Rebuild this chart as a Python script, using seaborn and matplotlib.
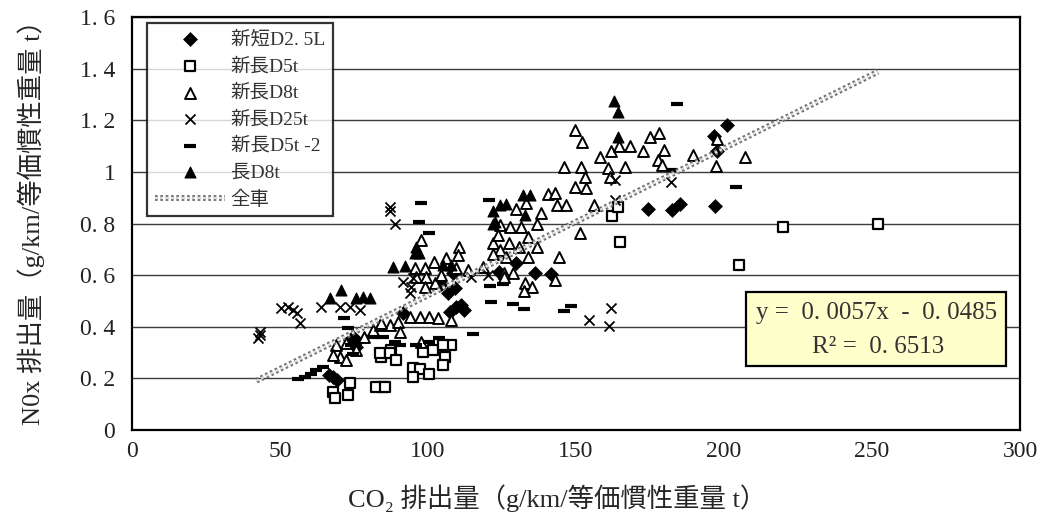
import matplotlib.pyplot as plt
import matplotlib.patheffects as pe
import numpy as np
import pandas as pd
import seaborn as sns

# data
short_d25_x = [201.1, 196.7, 197.8, 174.2, 182.3, 185.2, 196.8, 136.2, 141.7, 129.6, 124.0, 108.4,
               104.5, 106.7, 109.0, 111.2, 107.3, 109.5, 112.3, 91.6, 74.7, 75.8, 73.5, 76.0,
               67.9, 69.1, 66.5]
short_d25_y = [1.18, 1.14, 1.08, 0.856, 0.852, 0.874, 0.868, 0.607, 0.603, 0.646, 0.612, 0.607,
               0.565, 0.53, 0.549, 0.484, 0.458, 0.478, 0.465, 0.452, 0.362, 0.323, 0.35, 0.345,
               0.207, 0.194, 0.215]

long_d5_x = [162.2, 164.1, 165.0, 204.9, 220.0, 252.1, 107.9, 105.6, 105.0, 94.9, 97.2, 100.5,
             94.9, 98.3, 101.7, 84.2, 84.9, 87.6, 67.9, 68.5, 73.0, 73.5, 82.6, 85.4, 83.7, 87.0,
             89.3, 105.0]
long_d5_y = [0.829, 0.865, 0.73, 0.639, 0.785, 0.80, 0.329, 0.284, 0.252, 0.239, 0.235, 0.217,
             0.207, 0.303, 0.31, 0.284, 0.168, 0.31, 0.148, 0.123, 0.136, 0.181, 0.168, 0.168,
             0.297, 0.297, 0.271, 0.329]

long_d8_x = [149.8, 152.0, 158.0, 161.7, 164.6, 168.4, 172.5, 175.0, 178.0, 179.6, 177.6, 179.2,
             189.4, 197.8, 197.3, 207.0, 146.0, 151.8, 153.2, 149.8, 153.4, 160.9, 161.6, 166.5,
             140.5, 143.0, 143.5, 146.6, 156.2, 151.2, 144.2, 138.2, 136.9, 129.7, 133.0, 131.3,
             127.7, 133.8, 136.7, 133.9, 130.9, 127.5, 126.4, 142.9, 132.7, 135.1, 132.5, 128.6,
             125.8, 97.7, 110.4, 110.1, 106.2, 95.5, 98.9, 96.1, 99.4, 102.2, 98.9, 109.5, 121.9,
             123.6, 124.2, 121.9, 124.2, 125.8, 97.2, 100.5, 103.4, 93.8, 87.0, 97.7, 107.9,
             118.5, 113.5, 104.5, 102.0, 69.0, 70.2, 72.4, 72.4, 81.4, 83.7, 75.8, 67.9, 84.2,
             90.0, 78.5, 90.5]
long_d8_y = [1.162, 1.116, 1.056, 1.081, 1.10, 1.10, 1.081, 1.137, 1.15, 1.085, 1.046, 1.027,
             1.065, 1.126, 1.024, 1.059, 1.017, 1.02, 0.982, 0.94, 0.936, 1.014, 0.982, 1.018,
             0.914, 0.919, 0.872, 0.872, 0.872, 0.762, 0.672, 0.84, 0.80, 0.855, 0.88, 0.788,
             0.788, 0.749, 0.71, 0.672, 0.71, 0.723, 0.672, 0.581, 0.568, 0.553, 0.54, 0.607,
             0.607, 0.736, 0.71, 0.678, 0.665, 0.626, 0.626, 0.594, 0.594, 0.568, 0.555, 0.626,
             0.723, 0.755, 0.697, 0.68, 0.794, 0.594, 0.439, 0.439, 0.432, 0.439, 0.407, 0.342,
             0.426, 0.633, 0.62, 0.60, 0.65, 0.329, 0.284, 0.271, 0.336, 0.387, 0.407, 0.31,
             0.291, 0.413, 0.42, 0.36, 0.38]

long_d25_x = [43.2, 42.6, 43.4, 50.5, 52.7, 55.6, 56.7, 54.3, 64.0, 70.2, 73.5, 76.9, 87.3, 87.0,
              88.7, 91.5, 94.4, 94.9, 93.8, 114.6, 120.2, 163.3, 182.1, 163.2, 161.8, 161.0, 154.4]
long_d25_y = [0.368, 0.357, 0.378, 0.471, 0.478, 0.452, 0.413, 0.465, 0.478, 0.478, 0.478, 0.465,
              0.85, 0.862, 0.80, 0.575, 0.555, 0.588, 0.53, 0.594, 0.60, 0.969, 0.962, 0.891,
              0.471, 0.403, 0.427]

long_d5_2_x = [184.1, 204.0, 182.6, 120.6, 97.7, 96.9, 100.5, 120.8, 125.3, 121.2, 128.7, 132.6,
               145.9, 148.3, 115.2, 84.8, 90.4, 100.5, 103.7, 88.7, 71.6, 73.0, 56.0, 58.4, 60.6,
               62.3, 64.5, 74.1, 74.7, 81.4, 96.0]
long_d5_2_y = [1.263, 0.943, 1.007, 0.891, 0.878, 0.807, 0.764, 0.559, 0.564, 0.495, 0.488, 0.467,
               0.461, 0.481, 0.372, 0.362, 0.329, 0.342, 0.355, 0.342, 0.433, 0.397, 0.199, 0.207,
               0.217, 0.232, 0.243, 0.329, 0.294, 0.362, 0.33]

old_d8_x = [162.8, 164.1, 164.1, 132.0, 134.5, 126.3, 124.2, 121.9, 122.1, 132.8, 122.5, 88.2,
            92.1, 95.5, 96.9, 96.1, 105.0, 107.9, 66.8, 70.7, 75.8, 78.0, 80.3]
old_d8_y = [1.274, 1.232, 1.134, 0.91, 0.912, 0.877, 0.872, 0.848, 0.80, 0.831, 0.807, 0.633,
            0.635, 0.685, 0.685, 0.71, 0.639, 0.639, 0.51, 0.542, 0.51, 0.516, 0.51]

# fitted line for all vehicles, as printed on the chart
fit_slope = 0.0057
fit_intercept = -0.0485
fit_range = [42, 252]
r_squared = 0.6513

series_names = ["新短D2. 5L", "新長D5t", "新長D8t", "新長D25t", "新長D5t -2", "長D8t"]
x_ticks = [0, 50, 100, 150, 200, 250, 300]
y_ticks = [0, 0.2, 0.4, 0.6, 0.8, 1.0, 1.2, 1.4, 1.6]
y_tick_labels = ["0", "0. 2", "0. 4", "0. 6", "0. 8", "1", "1. 2", "1. 4", "1. 6"]

sns.set_style("white")
plt.rcParams["font.family"] = ["Liberation Serif", "Noto Sans CJK JP", "DejaVu Serif"]

fig = plt.figure(figsize=(10.43, 5.23), dpi=100)
ax = fig.add_axes([132 / 1043, 93 / 523, 888 / 1043, 413 / 523])

styles = [
    (short_d25_x, short_d25_y, dict(marker="D", s=50, color="black", edgecolor="black", linewidth=0.5)),
    (long_d5_x, long_d5_y, dict(marker="s", s=44, facecolor="white", edgecolor="black", linewidth=1.6)),
    (long_d8_x, long_d8_y, dict(marker="^", s=62, facecolor="white", edgecolor="black", linewidth=1.4)),
    (long_d25_x, long_d25_y, dict(marker="x", s=52, color="black", linewidth=1.3)),
    (long_d5_2_x, long_d5_2_y, dict(marker="_", s=72, color="black", linewidth=3.0)),
    (old_d8_x, old_d8_y, dict(marker="^", s=62, color="black", edgecolor="black", linewidth=0.8)),
]
for name, (xs, ys, kw) in zip(series_names, styles):
    df = pd.DataFrame({"x": xs, "y": ys})
    sns.scatterplot(data=df, x="x", y="y", ax=ax, label=name, zorder=3, **kw)

fit_x = np.array(fit_range, dtype=float)
fit_y = fit_slope * fit_x + fit_intercept
sns.lineplot(x=fit_x, y=fit_y, ax=ax, color="#e2e2e2", linewidth=1.6, dashes=False,
             label="全車", zorder=4,
             path_effects=[pe.Stroke(linewidth=4.2, foreground="#6f6f6f"), pe.Normal()])
ax.lines[-1].set_dashes((1.2, 1.2))

ax.set_xlim(0, 300)
ax.set_ylim(0, 1.6)
ax.set_xticks(x_ticks)
ax.set_xticklabels([str(t) for t in x_ticks])
ax.set_yticks(y_ticks)
ax.set_yticklabels(y_tick_labels)
ax.tick_params(axis="x", direction="in", length=6, width=1.5, pad=8, labelsize=17, colors="#222")
ax.tick_params(axis="y", direction="in", length=4, width=1.0, pad=12, labelsize=17, colors="#222")
ax.yaxis.grid(True, color="#3c3c3c", linewidth=1.0)
ax.xaxis.grid(False)
for sp in ax.spines.values():
    sp.set_visible(True)
    sp.set_color("black")
    sp.set_linewidth(1.6)

ax.set_xlabel("CO₂ 排出量（g/km/等価慣性重量 t）", fontsize=19)
ax.xaxis.set_label_coords(0.4786, -0.165)
ax.xaxis.label.set_va("center")
ax.set_ylabel("N0x 排出量（g/km/等価慣性重量 t）", fontsize=19)
ax.yaxis.set_label_coords(-0.1137, 0.519)
ax.yaxis.label.set_va("center")

leg = ax.legend(loc="upper left", bbox_to_anchor=(0.017, 0.985), borderaxespad=0,
                fontsize=14, frameon=True, fancybox=False, edgecolor="black",
                handlelength=3.6, handletextpad=0.3, labelspacing=0.46, borderpad=0.4)
leg.get_frame().set_linewidth(1.6)
for t in leg.get_texts():
    t.set_color("#333")

# equation box
ax.add_patch(plt.Rectangle((0.691, 0.155), 0.2928, 0.1785, transform=ax.transAxes,
                           facecolor="#ffffcc", edgecolor="black", linewidth=1.6, zorder=5))
ax.text(0.8387, 0.283, f"y =  {fit_slope:.4f}x  -  {abs(fit_intercept):.4f}".replace(".", ". "),
        transform=ax.transAxes, ha="center", va="center", fontsize=18, color="#333", zorder=6)
ax.text(0.8401, 0.2017, f"R² =  {r_squared:.4f}".replace(".", ". "),
        transform=ax.transAxes, ha="center", va="center", fontsize=18, color="#333", zorder=6)

fig.savefig("out.png", dpi=100)
